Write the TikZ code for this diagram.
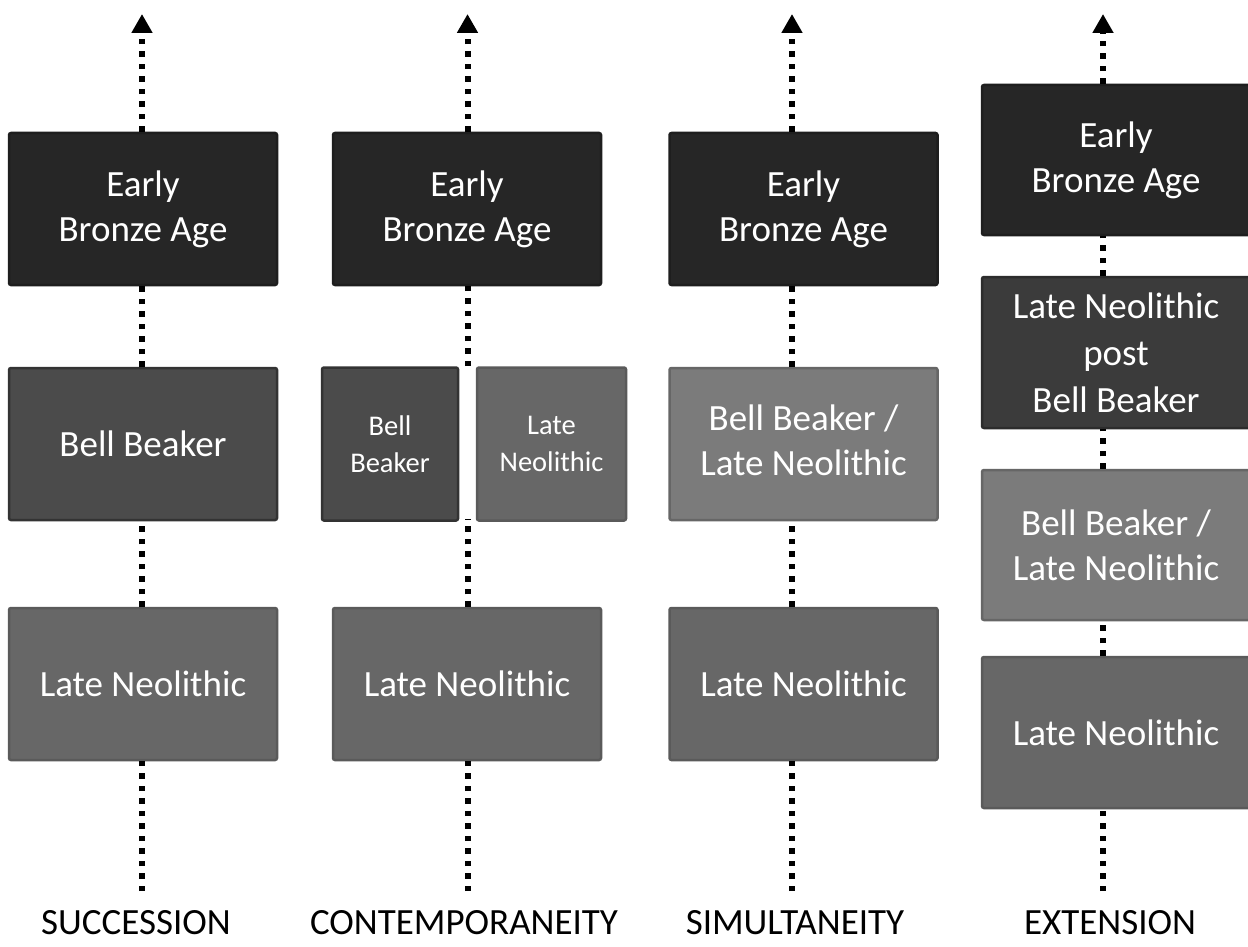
\documentclass[tikz,border=0pt]{standalone}
\usepackage{fontspec}
\setmainfont{Carlito}
\usetikzlibrary{arrows.meta}
\tikzset{
  box/.style={rectangle, rounded corners=2pt, inner sep=0pt, align=center,
    text=white, line width=2.5pt, minimum width=268pt, minimum height=152pt,
    font=\fontsize{37}{45}\selectfont},
  smallbox/.style={box, minimum height=153pt, font=\fontsize{28.5}{37}\selectfont},
  eba/.style={box, fill=c26, draw=c1e},
  bbdark/.style={fill=c4b, draw=c33},
  lngrey/.style={fill=c67, draw=c5a},
  bbln/.style={fill=c7b, draw=c66},
  lnpbb/.style={fill=c3b, draw=c2c},
  dotline/.style={line width=6pt, dash pattern=on 5.5pt off 7pt, black},
  uparrow/.style={dotline, -{Triangle[width=20pt,length=19pt]}},
  lab/.style={anchor=base, inner sep=0pt, font=\fontsize{37}{45}\selectfont, text=black}
}
\definecolor{c26}{HTML}{262626}
\definecolor{c1e}{HTML}{1E1E1E}
\definecolor{c4b}{HTML}{4B4B4B}
\definecolor{c33}{HTML}{333333}
\definecolor{c67}{HTML}{676767}
\definecolor{c5a}{HTML}{5A5A5A}
\definecolor{c7b}{HTML}{7B7B7B}
\definecolor{c66}{HTML}{666666}
\definecolor{c3b}{HTML}{3B3B3B}
\definecolor{c2c}{HTML}{2C2C2C}
\begin{document}
\begin{tikzpicture}[x=1pt, y=-1pt]
\path[use as bounding box, fill=white] (0,0) rectangle (1248,947);

% ---------- column 1: succession
\node[eba] (eba1) at (143,209) {Early\\Bronze Age};
\node[box, bbdark] (bb1) at (143,444) {Bell Beaker};
\node[box, lngrey] (ln1) at (143,684) {Late Neolithic};
\coordinate (top1) at (142,14);
\coordinate (bot1) at (142,891);
\draw[dotline] (bot1) -- (bot1 |- ln1.south);
\draw[dotline] (ln1.north -| bot1) -- (bb1.south -| bot1);
\draw[dotline] (bb1.north -| bot1) -- (eba1.south -| bot1);
\draw[uparrow] (eba1.north -| top1) -- (top1);
\node[lab] (l1) at (136,934) {SUCCESSION};

% ---------- column 2: contemporaneity
\node[eba] (eba2) at (467,209) {Early\\Bronze Age};
\node[smallbox, bbdark, minimum width=136pt] (bb2) at (390,444) {Bell\\Beaker};
\node[smallbox, lngrey, minimum width=149pt] (lns2) at (551.5,444) {Late\\Neolithic};
\node[box, lngrey] (ln2) at (467,684) {Late Neolithic};
\coordinate (top2) at (467.5,14);
\coordinate (bot2) at (467.5,891);
\coordinate (gapa2) at (467.5,366);
\coordinate (gapb2) at (467.5,519);
\draw[dotline] (bot2) -- (bot2 |- ln2.south);
\draw[dotline] (ln2.north -| bot2) -- (gapb2);
\draw[dotline] (gapa2) -- (eba2.south -| bot2);
\draw[uparrow] (eba2.north -| top2) -- (top2);
\node[lab] (l2) at (464,934) {CONTEMPORANEITY};

% ---------- column 3: simultaneity
\node[eba] (eba3) at (803.5,209) {Early\\Bronze Age};
\node[box, bbln] (bb3) at (803.5,444) {Bell Beaker /\\Late Neolithic\rule[-8pt]{0pt}{0pt}};
\node[box, lngrey] (ln3) at (803.5,684) {Late Neolithic};
\coordinate (top3) at (792,14);
\coordinate (bot3) at (792,891);
\draw[dotline] (bot3) -- (bot3 |- ln3.south);
\draw[dotline] (ln3.north -| bot3) -- (bb3.south -| bot3);
\draw[dotline] (bb3.north -| bot3) -- (eba3.south -| bot3);
\draw[uparrow] (eba3.north -| top3) -- (top3);
\node[lab] (l3) at (795,934) {SIMULTANEITY};

% ---------- column 4: extension
\node[eba, minimum height=150pt] (eba4) at (1116,160) {Early\\Bronze Age};
\node[box, lnpbb, minimum height=151pt, font=\fontsize{37}{47}\selectfont] (lp4) at (1116,352.5) {Late Neolithic\\post\\Bell Beaker};
\node[box, bbln, minimum height=150pt] (bb4) at (1116,545) {Bell Beaker /\\Late Neolithic};
\node[box, lngrey, minimum height=151pt] (ln4) at (1116,732.5) {Late Neolithic};
\coordinate (top4) at (1103,14);
\coordinate (bot4) at (1103,891);
\draw[dotline] (bot4) -- (bot4 |- ln4.south);
\draw[dotline] (ln4.north -| bot4) -- (bb4.south -| bot4);
\draw[dotline] (bb4.north -| bot4) -- (lp4.south -| bot4);
\draw[dotline] (lp4.north -| bot4) -- (eba4.south -| bot4);
\draw[uparrow] (eba4.north -| top4) -- (top4);
\node[lab] (l4) at (1110,934) {EXTENSION};
\end{tikzpicture}
\end{document}
